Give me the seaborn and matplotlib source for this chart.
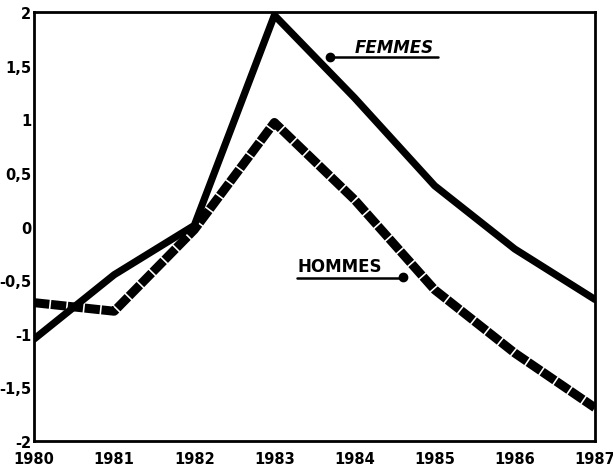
import matplotlib
matplotlib.use("Agg")
import matplotlib.pyplot as plt
import seaborn as sns
import pandas as pd

years = [1980, 1981, 1982, 1983, 1984, 1985, 1986, 1987]
femmes = [-1.05, -0.45, 0.01, 1.97, 1.20, 0.38, -0.21, -0.68]
hommes = [-0.71, -0.79, -0.03, 0.97, 0.25, -0.59, -1.18, -1.69]
xtick_labels = ["1980", "1981", "1982", "1983", "1984", "1985", "1986", "1987"]
yticks = [2, 1.5, 1, 0.5, 0, -0.5, -1, -1.5, -2]
ytick_labels = ["2", "1,5", "1", "0,5", "0", "-0,5", "-1", "-1,5", "-2"]

sns.set_style("white")
plt.rcParams["font.family"] = ["DejaVu Sans"]
plt.rcParams["text.color"] = "black"
plt.rcParams["xtick.color"] = "black"
plt.rcParams["ytick.color"] = "black"

df = pd.DataFrame({
    "annee": years * 2,
    "valeur": femmes + hommes,
    "sexe": ["FEMMES"] * len(years) + ["HOMMES"] * len(years),
})

fig = plt.figure(figsize=(6.13, 4.77), dpi=100)
ax = fig.add_axes([0.0555, 0.0734, 0.915, 0.8993])

sns.lineplot(data=df[df.sexe == "FEMMES"], x="annee", y="valeur", ax=ax,
             color="black", linewidth=5.2, legend=False)
sns.lineplot(data=df[df.sexe == "HOMMES"], x="annee", y="valeur", ax=ax,
             color="black", linewidth=6.5, legend=False)
ax.lines[1].set_dashes([1.7, 0.18])
ax.lines[1].set_dash_capstyle("butt")

ax.set_xlim(1980, 1987)
ax.set_ylim(-2, 2)
ax.set_xticks(years)
ax.set_xticklabels(xtick_labels, fontsize=10.5, fontweight="bold", color="black")
ax.set_yticks(yticks)
ax.set_yticklabels(ytick_labels, fontsize=10.5, fontweight="bold", color="black")
ax.tick_params(axis="x", length=0, pad=7)
ax.tick_params(axis="y", length=0, pad=2)
ax.set_xlabel("")
ax.set_ylabel("")
for s in ax.spines.values():
    s.set_linewidth(2)
    s.set_color("black")

# annotations
ax.text(1984.5, 1.67, "FEMMES", fontsize=12, fontweight="bold", fontstyle="italic",
        ha="center", va="center", color="black")
ax.plot([1983.69, 1985.04], [1.58, 1.58], color="black", lw=1.8)
ax.plot([1983.69], [1.58], "o", color="black", ms=6)

ax.text(1983.81, -0.37, "HOMMES", fontsize=12, fontweight="bold",
        ha="center", va="center", color="black")
ax.plot([1983.28, 1984.6], [-0.48, -0.48], color="black", lw=1.8)
ax.plot([1984.6], [-0.47], "o", color="black", ms=6)

fig.savefig("out.png", dpi=100)
